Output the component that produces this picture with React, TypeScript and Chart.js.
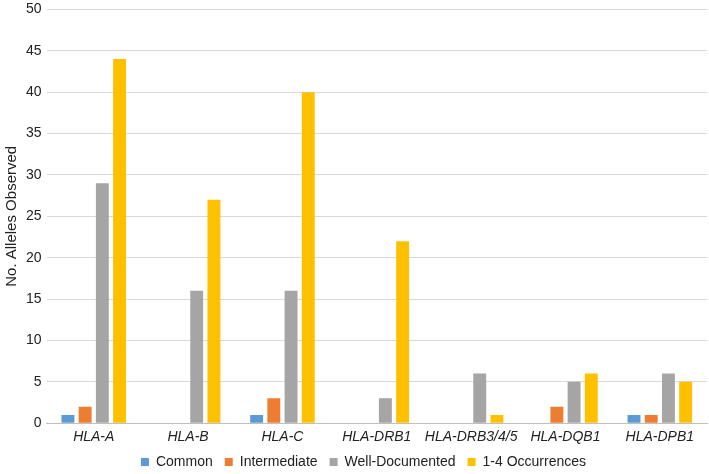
import React, { useEffect, useRef } from "react";
import { Chart, registerables } from "chart.js";

Chart.register(...registerables);

const categories = ["HLA-A", "HLA-B", "HLA-C", "HLA-DRB1", "HLA-DRB3/4/5", "HLA-DQB1", "HLA-DPB1"];
const common = [1, 0, 1, 0, 0, 0, 1];
const intermediate = [2, 0, 3, 0, 0, 2, 1];
const wellDocumented = [29, 16, 16, 3, 6, 5, 6];
const occurrences = [44, 27, 40, 22, 1, 6, 5];
const yTicks = [0, 5, 10, 15, 20, 25, 30, 35, 40, 45, 50];

const LEGEND_PAD = 12;
const LEGEND_TRIM = 9;
const LEGEND_SHIFT_X = 10;

const compactLegend = {
  id: "compactLegend",
  beforeInit(chart: any) {
    const legend = chart.legend;
    if (!legend) return;
    const origFit = legend.fit.bind(legend);
    legend.fit = function () {
      origFit();
      this.height = Math.max(0, this.height - LEGEND_TRIM);
    };
    const origDraw = legend.draw.bind(legend);
    legend.draw = function (area: any) {
      const ctx = chart.ctx;
      ctx.save();
      ctx.translate(LEGEND_SHIFT_X, -LEGEND_TRIM);
      origDraw(area);
      ctx.restore();
    };
  },
};

export default function App() {
  const ref = useRef<HTMLCanvasElement | null>(null);
  useEffect(() => {
    if (!ref.current) return;
    const font = "'Liberation Sans', Arial, Helvetica, sans-serif";
    const chart = new Chart(ref.current, {
      type: "bar",
      data: {
        labels: categories,
        datasets: [
          { label: "Common", data: common, backgroundColor: "#5B9BD5" },
          { label: "Intermediate", data: intermediate, backgroundColor: "#ED7D31" },
          { label: "Well-Documented", data: wellDocumented, backgroundColor: "#A5A5A5" },
          { label: "1-4 Occurrences", data: occurrences, backgroundColor: "#FFC000" },
        ],
      },
      plugins: [compactLegend],
      options: {
        animation: false,
        responsive: true,
        maintainAspectRatio: false,
        layout: { padding: { left: 0, right: 2, top: 0, bottom: 0 } },
        datasets: { bar: { categoryPercentage: 0.73, barPercentage: 0.75, borderWidth: 0 } },
        plugins: {
          legend: {
            position: "bottom",
            labels: {
              boxWidth: 8,
              boxHeight: 8,
              padding: LEGEND_PAD,
              color: "#222",
              font: { family: font, size: 14 },
            },
          },
          tooltip: { enabled: false },
        },
        scales: {
          x: {
            grid: { display: false, drawTicks: false },
            border: { display: true, color: "#BFBFBF", width: 1 },
            ticks: {
              color: "#222",
              font: { family: font, size: 14, style: "italic" },
              padding: 6,
              maxRotation: 0,
              minRotation: 0,
              autoSkip: false,
            },
          },
          y: {
            min: 0,
            max: 50,
            afterBuildTicks: (axis: any) => {
              axis.ticks = yTicks.map((v) => ({ value: v }));
            },
            grid: { color: "#D9D9D9", drawTicks: false },
            border: { display: false },
            ticks: { color: "#222", font: { family: font, size: 14 }, padding: 5 },
            title: {
              display: true,
              text: "No. Alleles Observed",
              color: "#222",
              font: { family: font, size: 15 },
              padding: { top: 3, bottom: 0 },
            },
          },
        },
      },
    });
    return () => chart.destroy();
  }, []);
  return (
    <div style={{ position: "fixed", left: 0, top: -4, width: 709, height: 483, background: "#fff" }}>
      <canvas ref={ref} />
    </div>
  );
}
